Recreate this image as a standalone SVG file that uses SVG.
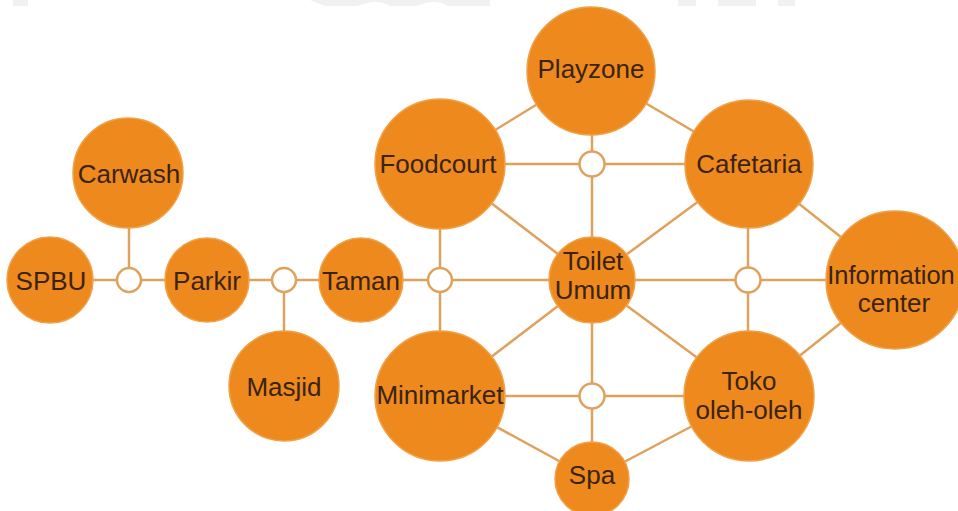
<svg xmlns="http://www.w3.org/2000/svg" width="958" height="511" viewBox="0 0 958 511">
<style>
.n{fill:#EE891E;stroke:#EFA24A;stroke-width:1.5}
.j{fill:#FFFFFF;stroke:#DFA25E;stroke-width:2.5}
.e line{stroke:#DFA25E;stroke-width:2.5}
text{font-family:"Liberation Sans",Arial,sans-serif;font-size:26px;fill:#3A2312;text-anchor:middle}
.bg{fill:#F1F1F1}
</style>
<rect width="958" height="511" fill="#FFFFFF"/>
<g id="bg-top">
<rect class="bg" x="13" y="0" width="15" height="6"/>
<path class="bg" d="M310 0 H490 V6 H448 Q438 0 425 3 Q418 6 415 6 H390 Q380 0 367 3 Q360 6 355 6 H325 Z"/>
<rect class="bg" x="678" y="0" width="18" height="6"/>
<rect class="bg" x="718" y="0" width="38" height="6"/>
<rect class="bg" x="778" y="0" width="17" height="6"/>
</g>
<g id="connectors" class="e">
<line x1="50" y1="280" x2="361" y2="280"/>
<line x1="129" y1="173" x2="129" y2="280"/>
<line x1="284" y1="280" x2="284" y2="386"/>
<line x1="361" y1="280" x2="895" y2="280"/>
<line x1="440" y1="164" x2="440" y2="396"/>
<line x1="748" y1="164" x2="748" y2="396"/>
<line x1="592" y1="71" x2="592" y2="479"/>
<line x1="440" y1="164" x2="749" y2="164"/>
<line x1="440" y1="396" x2="749" y2="396"/>
<line x1="440" y1="164" x2="591" y2="71"/>
<line x1="591" y1="71" x2="749" y2="164"/>
<line x1="440" y1="164" x2="592" y2="280"/>
<line x1="749" y1="164" x2="592" y2="280"/>
<line x1="440" y1="396" x2="592" y2="280"/>
<line x1="749" y1="396" x2="592" y2="280"/>
<line x1="440" y1="396" x2="592" y2="479"/>
<line x1="749" y1="396" x2="592" y2="479"/>
<line x1="749" y1="164" x2="895" y2="280"/>
<line x1="749" y1="396" x2="895" y2="280"/>
</g>
<g id="junctions">
<circle class="j" cx="129" cy="280" r="12"/>
<circle class="j" cx="284" cy="280" r="12"/>
<circle class="j" cx="440" cy="280" r="12"/>
<circle class="j" cx="748" cy="280" r="12.5"/>
<circle class="j" cx="592" cy="164" r="12.5"/>
<circle class="j" cx="592" cy="396" r="12.5"/>
</g>
<g id="spbu"><circle class="n" cx="50" cy="280" r="43"/><text x="51" y="290">SPBU</text></g>
<g id="carwash"><circle class="n" cx="128" cy="173" r="55"/><text x="129" y="183">Carwash</text></g>
<g id="parkir"><circle class="n" cx="207" cy="280" r="42"/><text x="207" y="290">Parkir</text></g>
<g id="masjid"><circle class="n" cx="284" cy="386" r="55"/><text x="284" y="396">Masjid</text></g>
<g id="taman"><circle class="n" cx="361" cy="280" r="42"/><text x="361" y="290">Taman</text></g>
<g id="playzone"><circle class="n" cx="591" cy="71" r="64"/><text x="591" y="78">Playzone</text></g>
<g id="foodcourt"><circle class="n" cx="440" cy="164" r="65"/><text x="438" y="173">Foodcourt</text></g>
<g id="cafetaria"><circle class="n" cx="749" cy="164" r="64"/><text x="749" y="173">Cafetaria</text></g>
<g id="toilet-umum"><circle class="n" cx="592" cy="280" r="43"/><text x="593" y="270">Toilet</text><text x="593" y="299">Umum</text></g>
<g id="information-center"><circle class="n" cx="895" cy="280" r="69"/><text x="891" y="284" style="font-size:25.5px">Information</text><text x="894" y="312">center</text></g>
<g id="minimarket"><circle class="n" cx="440" cy="396" r="65"/><text x="440" y="404">Minimarket</text></g>
<g id="toko-oleh-oleh"><circle class="n" cx="749" cy="396" r="65"/><text x="749" y="390">Toko</text><text x="749" y="419">oleh-oleh</text></g>
<g id="spa"><circle class="n" cx="592" cy="479" r="37"/><text x="592" y="484">Spa</text></g>
</svg>
